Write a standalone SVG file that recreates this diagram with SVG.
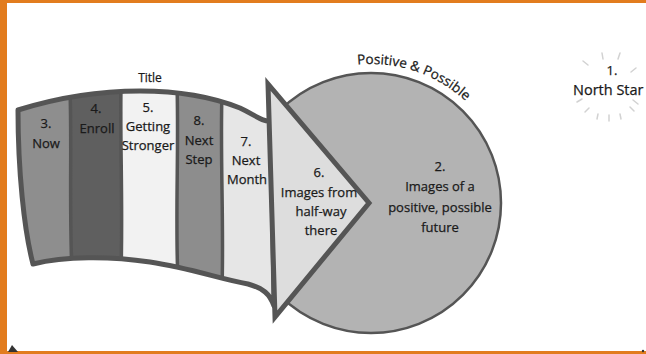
<svg xmlns="http://www.w3.org/2000/svg" width="646" height="354" viewBox="0 0 646 354">
<style>
.t{font-family:"Open Sans","Liberation Sans",sans-serif;font-size:13px;fill:#1a1a1a;stroke:#1a1a1a;stroke-width:0.25;text-anchor:middle}
.s{font-size:12px}
.st{text-anchor:start}
.ol{fill:none;stroke:#555;stroke-linejoin:round;stroke-linecap:round}
.ray{stroke:#d2d2d2;stroke-width:1.5;stroke-linecap:round}
</style>
<defs>
<clipPath id="bc"><path id="bp" d="M18 110 C50 100 90 91 140 91 C180 91 215 98 240 108 C255 115 262 122 271 121 L274 306 C270 294 263 288 248 284 C220 279 190 268 150 262 C110 256 65 256 33 264 C24 230 18 170 18 110 Z"/></clipPath>
<path id="arc" d="M357.5 64.6 A139 139 0 0 1 501.6 155.5"/>
</defs>
<rect width="646" height="354" fill="#fff"/>
<g id="frame" fill="#e27c1e">
<rect x="0" y="0" width="646" height="3"/>
<rect x="0" y="0" width="7" height="354"/>
<rect x="0" y="351" width="646" height="3"/>
</g>
<polygon points="8,352 12,345 18,352" fill="#333"/>
<circle cx="643" cy="351" r="1.2" fill="#333"/>
<g id="n2">
<circle cx="371" cy="203" r="130" fill="#b3b3b3" stroke="#555" stroke-width="2.5"/>
<text class="t st" style="font-size:13.5px"><textPath href="#arc">Positive &amp; Possible</textPath></text>
<text class="t" x="440" y="171">2.</text>
<text class="t" x="440" y="191">Images of a</text>
<text class="t" x="440" y="212">positive, possible</text>
<text class="t" x="440" y="232">future</text>
</g>
<g id="banner">
<g clip-path="url(#bc)">
<rect x="10" y="80" width="61" height="200" fill="#8e8e8e"/>
<rect x="71" y="80" width="50" height="200" fill="#5f5f5f"/>
<rect x="121" y="80" width="56" height="200" fill="#f2f2f2"/>
<rect x="177" y="80" width="45" height="220" fill="#8d8d8d"/>
<rect x="222" y="80" width="55" height="240" fill="#e6e6e6"/>
<g class="ol" stroke-width="3.5">
<path d="M70 90 C72 150 69 200 72 275"/>
<path d="M121 85 C120 150 123 200 121 275"/>
<path d="M177 85 C179 150 175 220 178 280"/>
<path d="M222 90 C220 160 224 220 222 290"/>
</g>
</g>
<use href="#bp" class="ol" stroke-width="5"/>
</g>
<g id="n3"><text class="t" x="46" y="128">3.</text><text class="t" x="46" y="148">Now</text></g>
<g id="n4"><text class="t" x="96" y="113">4.</text><text class="t" x="97" y="133">Enroll</text></g>
<g id="n5"><text class="t" x="148" y="112">5.</text><text class="t" x="148" y="131">Getting</text><text class="t" x="148" y="150">Stronger</text></g>
<g id="n8"><text class="t" x="199" y="125">8.</text><text class="t" x="199" y="145">Next</text><text class="t" x="199" y="164">Step</text></g>
<g id="n7"><text class="t" x="246" y="146">7.</text><text class="t" x="246" y="165">Next</text><text class="t" x="247" y="184">Month</text></g>
<g id="n6">
<polygon points="268,84 275,317 369,203" fill="#dddddd" stroke="#555" stroke-width="5" stroke-linejoin="miter" stroke-miterlimit="10"/>
<text class="t" x="319" y="177">6.</text>
<text class="t" x="319" y="197">Images from</text>
<text class="t" x="321" y="216">half-way</text>
<text class="t" x="321" y="235">there</text>
</g>
<text id="title" class="t s" x="150" y="82">Title</text>
<g id="n1">
<g class="ray">
<line x1="602" y1="53" x2="603" y2="59"/>
<line x1="620" y1="53" x2="618" y2="59"/>
<line x1="583" y1="61" x2="588" y2="65"/>
<line x1="636" y1="68" x2="631" y2="72"/>
<line x1="577" y1="102" x2="582" y2="99"/>
<line x1="633" y1="100" x2="638" y2="104"/>
<line x1="585" y1="112" x2="589" y2="108"/>
<line x1="597" y1="119" x2="598" y2="114"/>
<line x1="609" y1="121" x2="609" y2="115"/>
<line x1="621" y1="119" x2="620" y2="114"/>
<line x1="634" y1="111" x2="630" y2="107"/>
</g>
<text class="t" x="612" y="75">1.</text>
<text class="t st" x="573" y="95" style="font-size:14.5px">North Star</text>
</g>
</svg>
